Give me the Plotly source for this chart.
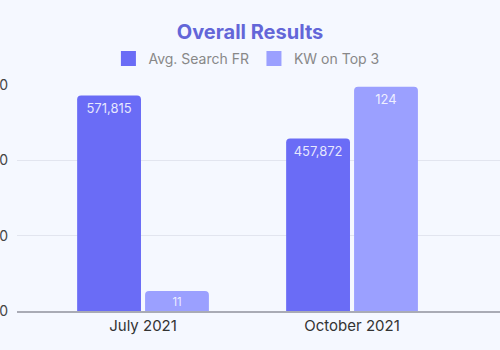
import plotly.graph_objects as go

categories = ["July 2021", "October 2021"]
avg_search_fr = [571815, 457872]
kw_top3 = [11, 124]
series_names = ["Avg. Search FR", "KW on Top 3"]
colors = ["#6a6cf6", "#9ba0ff"]

FONT = "Inter, Lato, sans-serif"
fig = go.Figure()
for vals, name, col, grp, ax in [
    (avg_search_fr, series_names[0], colors[0], "a", "y"),
    (kw_top3, series_names[1], colors[1], "b", "y2"),
]:
    fig.add_trace(go.Bar(
        x=categories, y=vals, name=name, showlegend=False,
        marker=dict(color=col, line=dict(width=0)),
        text=[f"{v:,}" for v in vals], textposition="inside",
        insidetextanchor="end", constraintext="none", textangle=0,
        textfont=dict(color="rgba(255,255,255,0.85)", size=13, family=FONT),
        offsetgroup=grp, yaxis=ax,
    ))
for name, col in zip(series_names, colors):
    fig.add_trace(go.Scatter(
        x=[None], y=[None], mode="markers", name=name,
        marker=dict(symbol="square", size=15, color=col),
    ))
fig.update_layout(
    width=500, height=350,
    margin=dict(l=17, r=0, t=85, b=39, autoexpand=False),
    paper_bgcolor="#f5f8ff", plot_bgcolor="#f5f8ff",
    font=dict(family=FONT, color="#444"),
    title=dict(text="<b>Overall Results</b>", x=0.5, xanchor="center",
               y=1 - 32 / 350, yanchor="middle", yref="container",
               font=dict(size=20, color="#6366d8", family=FONT)),
    legend=dict(orientation="h", x=0.475, xanchor="center", xref="paper",
                y=1 + 26 / 226, yanchor="middle",
                font=dict(size=14, color="#888", family=FONT),
                itemsizing="trace"),
    barmode="group", bargap=0.35, bargroupgap=0.06, barcornerradius=4,
    xaxis=dict(range=[-0.603, 1.708], showline=True, linecolor="#a9abb5",
               linewidth=2, ticks="", tickfont=dict(size=15, color="#333"),
               showgrid=False, automargin=False, tickangle=0),
    yaxis=dict(range=[0, 600000], dtick=200000, tickformat=",",
               gridcolor="#e2e5ef", gridwidth=1, zeroline=False,
               tickfont=dict(size=14, color="#444"), ticklabelstandoff=8,
               automargin=False),
    yaxis2=dict(range=[0, 125], overlaying="y", side="right",
                showticklabels=False, showgrid=False, zeroline=False,
                automargin=False),
)
fig.write_html("out.html")
